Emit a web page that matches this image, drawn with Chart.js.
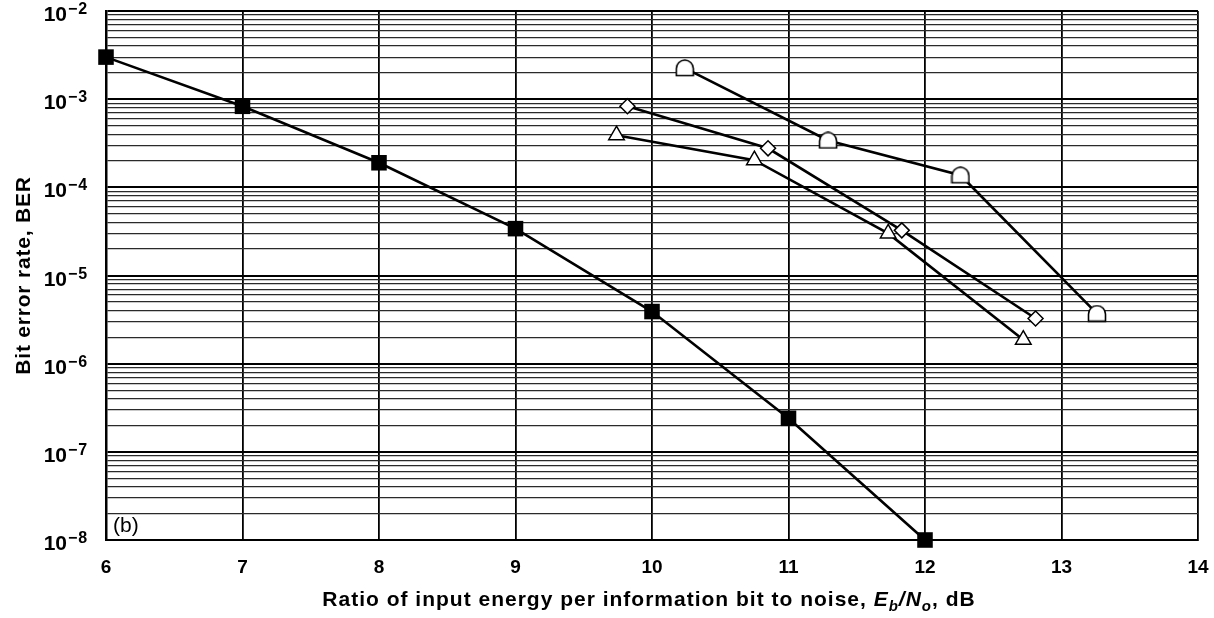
<!DOCTYPE html>
<html>
<head>
<meta charset="utf-8">
<title>BER vs Eb/No</title>
<script src="https://cdn.jsdelivr.net/npm/chart.js@4.4.1/dist/chart.umd.min.js"></script>
<style>
  html, body { margin: 0; padding: 0; background: #fff; }
  #wrap { width: 1214px; height: 618px; }
</style>
</head>
<body>
<div id="wrap"><canvas id="berCanvas" width="1214" height="618"></canvas></div>
<script>
// values
const squareX = [6, 7, 8, 9, 10, 11, 12];
const squareBER = [3.0e-3, 8.3e-4, 1.9e-4, 3.4e-5, 3.9e-6, 2.4e-7, 1.0e-8];

const domeX = [10.24, 11.29, 12.26, 13.26];
const domeBER = [2.25e-3, 3.4e-4, 1.37e-4, 3.7e-6];

const diamondX = [9.82, 10.85, 11.83, 12.81];
const diamondBER = [8.3e-4, 2.77e-4, 3.25e-5, 3.25e-6];

const triangleX = [9.74, 10.75, 11.73, 12.72];
const triangleBER = [3.9e-4, 2.03e-4, 3.0e-5, 1.87e-6];

// axis ticks
const xTicks = [6, 7, 8, 9, 10, 11, 12, 13, 14];
const yTickExps = [-8, -7, -6, -5, -4, -3, -2];
const yMinorSteps = [1, 2, 3, 4, 5, 6, 7, 8, 9];

const FONT = '"Liberation Sans", Arial, Helvetica, sans-serif';

const toPoints = (xs, ys) => xs.map((x, i) => ({ x, y: ys[i] }));

// open marker with a round top and a flat bottom
function makeDome() {
  const c = document.createElement('canvas');
  c.width = 20;
  c.height = 18;
  const g = c.getContext('2d');
  g.beginPath();
  g.moveTo(1.5, 16.5);
  g.lineTo(1.5, 9.5);
  g.arc(10, 9.5, 8.5, Math.PI, 0);
  g.lineTo(18.5, 16.5);
  g.closePath();
  g.fillStyle = '#fff';
  g.fill();
  g.lineWidth = 1.6;
  g.strokeStyle = '#000';
  g.stroke();
  return c;
}

// every log gridline: 1..9 x 10^n, no 1.5 lines
const yGridValues = [];
yTickExps.forEach(e => {
  if (e === yTickExps[yTickExps.length - 1]) { yGridValues.push(Math.pow(10, e)); return; }
  yMinorSteps.forEach(m => yGridValues.push(m * Math.pow(10, e)));
});

const isDecade = v => Math.abs(Math.log10(v) - Math.round(Math.log10(v))) < 1e-6;

const lineBase = {
  showLine: true,
  borderColor: '#000',
  borderWidth: 2.6,
  pointBorderColor: '#000',
  pointBackgroundColor: '#fff',
  pointBorderWidth: 1.5,
  clip: false
};

const labelsPlugin = {
  id: 'berLabels',
  afterDraw(chart) {
    const { ctx, chartArea, scales } = chart;
    ctx.save();
    ctx.fillStyle = '#000';

    // y decade labels 10^n
    yTickExps.forEach(e => {
      const py = scales.y.getPixelForValue(Math.pow(10, e));
      ctx.letterSpacing = '0px';
      ctx.font = 'bold 21px ' + FONT;
      ctx.textAlign = 'right';
      ctx.textBaseline = 'alphabetic';
      ctx.fillText('10', 67, py + 10);
      ctx.letterSpacing = '1px';
      ctx.font = 'bold 16px ' + FONT;
      ctx.textAlign = 'left';
      ctx.fillText('\u2212' + Math.abs(e), 68, py + 3);
    });

    // y axis title
    ctx.save();
    ctx.translate(24, (chartArea.top + chartArea.bottom) / 2);
    ctx.rotate(-Math.PI / 2);
    ctx.letterSpacing = '0.8px';
    ctx.font = 'bold 21px ' + FONT;
    ctx.textAlign = 'center';
    ctx.textBaseline = 'middle';
    ctx.fillText('Bit error rate, BER', 0, 0);
    ctx.restore();

    // x axis title with subscripts
    const parts = [
      { t: 'Ratio of input energy per information bit to noise, ', f: 'bold 21px ', dy: 0 },
      { t: 'E', f: 'italic bold 21px ', dy: 0 },
      { t: 'b', f: 'italic bold 15px ', dy: 5 },
      { t: '/', f: 'italic bold 21px ', dy: 0 },
      { t: 'N', f: 'italic bold 21px ', dy: 0 },
      { t: 'o', f: 'italic bold 15px ', dy: 5 },
      { t: ', dB', f: 'bold 21px ', dy: 0 }
    ];
    ctx.letterSpacing = '1px';
    let total = 0;
    parts.forEach(p => { ctx.font = p.f + FONT; p.w = ctx.measureText(p.t).width; total += p.w; });
    let tx = (chartArea.left + chartArea.right) / 2 - total / 2 - 3;
    const ty = 606;
    ctx.textAlign = 'left';
    ctx.textBaseline = 'alphabetic';
    parts.forEach(p => {
      ctx.font = p.f + FONT;
      ctx.fillText(p.t, tx, ty + p.dy);
      tx += p.w;
    });

    // panel tag
    ctx.letterSpacing = '0px';
    ctx.font = '21px ' + FONT;
    ctx.textBaseline = 'middle';
    ctx.fillText('(b)', chartArea.left + 7, chartArea.bottom - 14);
    ctx.restore();
  }
};

const ctx = document.getElementById('berCanvas').getContext('2d');

new Chart(ctx, {
  type: 'scatter',
  data: {
    datasets: [
      Object.assign({}, lineBase, {
        data: toPoints(squareX, squareBER),
        pointStyle: 'rect',
        pointRadius: 11,
        pointBackgroundColor: '#000',
        pointBorderWidth: 0
      }),
      Object.assign({}, lineBase, {
        data: toPoints(domeX, domeBER),
        pointStyle: makeDome(),
        pointRadius: 8
      }),
      Object.assign({}, lineBase, {
        data: toPoints(diamondX, diamondBER),
        pointStyle: 'rectRot',
        pointRadius: 7.5
      }),
      Object.assign({}, lineBase, {
        data: toPoints(triangleX, triangleBER),
        pointStyle: 'triangle',
        pointRadius: 9
      })
    ]
  },
  options: {
    responsive: false,
    animation: false,
    layout: { padding: { top: 11, right: 16, left: 0, bottom: 0 } },
    plugins: {
      legend: { display: false },
      tooltip: { enabled: false }
    },
    scales: {
      x: {
        type: 'linear',
        min: xTicks[0],
        max: xTicks[xTicks.length - 1],
        afterBuildTicks: scale => { scale.ticks = xTicks.map(v => ({ value: v })); },
        afterFit: scale => {
          scale.height = 78;
          scale.paddingLeft = 0;
          scale.paddingRight = 0;
        },
        ticks: {
          color: '#000',
          font: { family: FONT, size: 19, weight: 'bold' },
          padding: 16,
          maxRotation: 0
        },
        grid: { color: '#000', lineWidth: 1.8, drawTicks: false },
        border: { color: '#000', width: 2 }
      },
      y: {
        type: 'logarithmic',
        min: Math.pow(10, yTickExps[0]),
        max: Math.pow(10, yTickExps[yTickExps.length - 1]),
        afterBuildTicks: scale => { scale.ticks = yGridValues.map(v => ({ value: v })); },
        afterFit: scale => { scale.width = 106; },
        ticks: { display: false },
        grid: {
          drawTicks: false,
          color: c => isDecade(c.tick.value) ? '#000' : '#2a2a2a',
          lineWidth: c => isDecade(c.tick.value) ? 2 : 1.2
        },
        border: { color: '#000', width: 2.5 }
      }
    }
  },
  plugins: [labelsPlugin]
});
</script>
</body>
</html>
